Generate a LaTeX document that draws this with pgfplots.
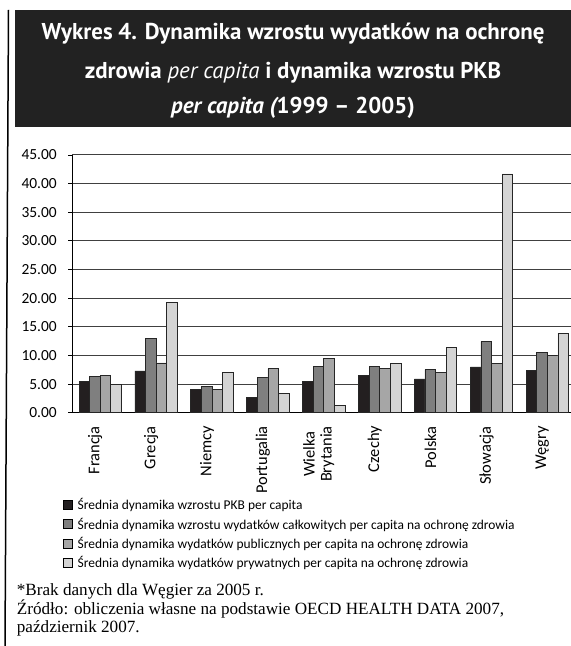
\documentclass[border=0pt]{standalone}
\usepackage{fontspec}
\setmainfont{Liberation Serif}
\newfontfamily\titlefont{PT Sans}
\newfontfamily\calfont{Carlito}
\usepackage{pgfplots}
\pgfplotsset{compat=1.18}

\definecolor{titlebg}{HTML}{222222}
\definecolor{barA}{HTML}{231F20}
\definecolor{barB}{HTML}{7F7F7F}
\definecolor{barC}{HTML}{A6A6A6}
\definecolor{barD}{HTML}{D4D4D4}
\definecolor{gridc}{HTML}{404040}

\begin{document}
\begin{tikzpicture}[x=1bp,y=1bp]
\path[use as bounding box] (0,0) rectangle (571,646);
% frame and title box
\draw[line width=1.5bp, black] (8.5,636) -- (5,0);
\fill[titlebg] (15,636) rectangle (571,519.3);
\begin{scope}[every node/.style={anchor=base, text=white, inner sep=0,
    font=\titlefont\bfseries\fontsize{23}{27}\selectfont}]
  \node at (293,606) {Wykres 4. Dynamika wzrostu wydatków na ochronę};
  \node at (293,567) {zdrowia {\mdseries\itshape per capita} i dynamika wzrostu PKB};
  \node at (293,532) {{\itshape per capita (}1999 – 2005)};
\end{scope}

\begin{axis}[
  at={(72.3bp,233.3bp)}, anchor=south west,
  scale only axis, width=503bp, height=257.7bp,
  xmin=-0.5, xmax=8.5, ymin=0, ymax=45,
  ybar=0pt, bar width=10.6bp,
  axis x line*=bottom, axis y line*=left,
  axis line style={black, line width=0.8bp, -},
  xtick={0,...,8}, ytick={0,5,...,45},
  xticklabels={Francja,Grecja,Niemcy,Portugalia,{Wielka\\Brytania},Czechy,Polska,Słowacja,Węgry},
  x tick style={draw=none},
  y tick style={black, line width=0.8bp},
  tick align=outside, major tick length=4bp,
  ymajorgrids, grid style={gridc, line width=1bp},
  tick label style={font=\calfont\fontsize{15.5}{16}\selectfont},
  yticklabel style={xshift=-8bp, /pgf/number format/fixed, /pgf/number format/fixed zerofill,
    /pgf/number format/precision=2, /pgf/number format/assume math mode=true},
  x tick label style={xshift=-5bp, yshift=-6bp, rotate=90, anchor=east, align=center,
    font=\calfont\fontsize{16.5}{17}\selectfont},
  legend style={at={(-0.024,-0.317)}, anchor=north west, draw=none, fill=none,
    font=\calfont\fontsize{13.5}{15}\selectfont, row sep=2.6bp},
  legend cell align=left,
  legend image code/.code={\path[draw=none, fill=none] (-3bp,0) -- (9bp,0);
    \draw[#1, draw=black, line width=0.6bp] (-3bp,-4.5bp) rectangle (6bp,4.5bp);},
  every axis plot/.append style={draw=black!85, line width=0.7bp},
]
\addplot[fill=barA] coordinates {(0,5.4) (1,7.3) (2,4.0) (3,2.7) (4,5.4) (5,6.5) (6,5.9) (7,8.0) (8,7.4)};
\addplot[fill=barB] coordinates {(0,6.3) (1,12.9) (2,4.6) (3,6.2) (4,8.1) (5,8.1) (6,7.5) (7,12.4) (8,10.5)};
\addplot[fill=barC] coordinates {(0,6.5) (1,8.7) (2,4.0) (3,7.7) (4,9.5) (5,7.8) (6,7.0) (7,8.6) (8,10.0)};
\addplot[fill=barD] coordinates {(0,4.9) (1,19.3) (2,7.0) (3,3.4) (4,1.2) (5,8.6) (6,11.4) (7,41.7) (8,13.9)};
\legend{Średnia dynamika wzrostu PKB per capita,
  Średnia dynamika wzrostu wydatków całkowitych per capita na ochronę zdrowia,
  Średnia dynamika wydatków publicznych per capita na ochronę zdrowia,
  Średnia dynamika wydatków prywatnych per capita na ochronę zdrowia}
\end{axis}

\begin{scope}[every node/.style={anchor=base west, inner sep=0,
    font=\fontsize{17.2}{19}\selectfont}]
  \node at (16.7,50.7) {*Brak danych dla Węgier za 2005 r.};
  \node at (16.7,31.7) {Źródło: obliczenia własne na podstawie OECD HEALTH DATA 2007,};
  \node at (16.7,13.5) {październik 2007.};
\end{scope}
\end{tikzpicture}
\end{document}
